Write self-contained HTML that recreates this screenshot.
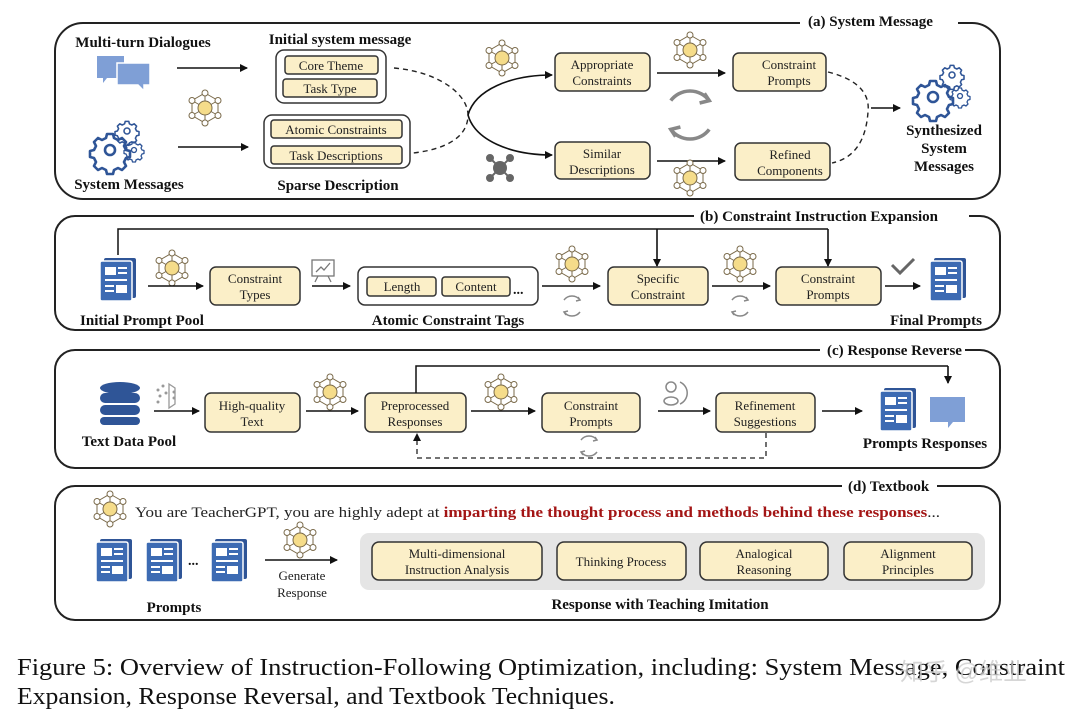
<!DOCTYPE html>
<html><head><meta charset="utf-8"><style>
html,body{margin:0;padding:0;background:#fff;}
svg{display:block;}
text{font-family:"Liberation Serif",serif;}
.b{font-weight:bold;fill:#111;}
.bx{fill:#fbefc8;stroke:#333;stroke-width:1.5;}
.gp{fill:#fff;stroke:#333;stroke-width:1.5;}
.pn{fill:none;stroke:#222;stroke-width:2;}
.ar{stroke:#111;stroke-width:1.6;fill:none;marker-end:url(#ah);}
.t{font-size:13px;fill:#222;}
</style></head><body>
<svg width="1080" height="719" viewBox="0 0 1080 719" xmlns="http://www.w3.org/2000/svg">
<defs>
<marker id="ah" markerWidth="8" markerHeight="8" refX="7" refY="4" orient="auto" markerUnits="userSpaceOnUse"><path d="M0,0 L8,4 L0,8 z" fill="#111"/></marker>
<g id="llm">
<g stroke="#7a6a4a" stroke-width="1" fill="none">
<path d="M0,-15 L13,-7.5 L13,7.5 L0,15 L-13,7.5 L-13,-7.5 Z"/>
<path d="M0,-15 L0,-7 M0,15 L0,7 M13,-7.5 L6,-3.5 M-13,-7.5 L-6,-3.5 M13,7.5 L6,3.5 M-13,7.5 L-6,3.5"/>
</g>
<circle r="7" fill="#f5dc8a" stroke="#7a6a4a" stroke-width="1"/>
<g fill="#fff" stroke="#7a6a4a" stroke-width="1">
<circle cx="0" cy="-15" r="3"/><circle cx="13" cy="-7.5" r="3"/><circle cx="13" cy="7.5" r="3"/>
<circle cx="0" cy="15" r="3"/><circle cx="-13" cy="7.5" r="3"/><circle cx="-13" cy="-7.5" r="3"/>
</g></g>
<g id="doc">
<rect x="4" y="0" width="32" height="40" fill="#2f5597" rx="2"/>
<rect x="0" y="3" width="32" height="40" fill="#3d6bb3" stroke="#fff" stroke-width="1.5" rx="2"/>
<rect x="5" y="9" width="11" height="8" fill="#fff"/>
<rect x="18" y="9" width="9" height="2" fill="#fff"/><rect x="18" y="14" width="9" height="2" fill="#fff"/>
<rect x="5" y="21" width="22" height="2" fill="#fff"/>
<rect x="5" y="27" width="9" height="2" fill="#fff"/><rect x="5" y="32" width="9" height="2" fill="#fff"/>
<rect x="16" y="27" width="11" height="8" fill="#fff"/>
</g>
<g id="cyc" fill="none" stroke="#888" stroke-width="1.5">
<path d="M-8,-6 A10,10 0 0 1 8,-6"/><path d="M8,6 A10,10 0 0 1 -8,6"/>
<path d="M6,-9 L8,-6 L4,-5" /><path d="M-6,9 L-8,6 L-4,5"/>
</g>
<g id="gear" fill="none" stroke="#2f5597" stroke-width="2.6" stroke-linejoin="round">
<path d="M-3,-16 h6 l1,4 l4,2 l4,-2 l4,4 l-2,4 l2,4 l4,1 v6 l-4,1 l-2,4 l2,4 l-4,4 l-4,-2 l-4,2 l-1,4 h-6 l-1,-4 l-4,-2 l-4,2 l-4,-4 l2,-4 l-2,-4 l-4,-1 v-6 l4,-1 l2,-4 l-2,-4 l4,-4 l4,2 l4,-2 z"/>
<circle r="5"/>
</g>
</defs>

<!-- Panel a -->
<rect x="55" y="23" width="945" height="176" rx="28" class="pn"/>
<rect x="800" y="12" width="158" height="20" fill="#fff"/>
<text x="808" y="26" class="b" font-size="15">(a) System Message</text>
<text x="143" y="47" class="b" font-size="15" text-anchor="middle">Multi-turn Dialogues</text>
<path d="M97,56 h27 v22 h-17 l-4,5 v-5 h-6 z" fill="#7f9fd6"/>
<path d="M117,63 h33 v22 h-6 v6 l-6,-6 h-21 z" fill="#7f9fd6" stroke="#fff" stroke-width="1.5"/>
<line x1="177" y1="68" x2="247" y2="68" class="ar"/>
<use href="#llm" x="205" y="108"/>
<use href="#gear" x="110" y="150"/>
<g transform="translate(127,131) scale(0.6)"><use href="#gear"/></g>
<g transform="translate(134,150) scale(0.5)"><use href="#gear"/></g>
<text x="129" y="189" class="b" font-size="15" text-anchor="middle">System Messages</text>
<line x1="178" y1="147" x2="248" y2="147" class="ar"/>
<text x="340" y="44" class="b" font-size="15" text-anchor="middle">Initial system message</text>
<rect x="276" y="50" width="110" height="53" rx="8" class="gp"/>
<rect x="285" y="56" width="93" height="18" rx="3" class="bx"/>
<text x="331" y="70" class="t" text-anchor="middle">Core Theme</text>
<rect x="283" y="79" width="94" height="18" rx="3" class="bx"/>
<text x="330" y="93" class="t" text-anchor="middle">Task Type</text>
<rect x="264" y="115" width="146" height="53" rx="8" class="gp"/>
<rect x="271" y="120" width="131" height="18" rx="3" class="bx"/>
<text x="336" y="134" class="t" text-anchor="middle">Atomic Constraints</text>
<rect x="271" y="146" width="131" height="18" rx="3" class="bx"/>
<text x="336" y="160" class="t" text-anchor="middle">Task Descriptions</text>
<text x="338" y="190" class="b" font-size="15" text-anchor="middle">Sparse Description</text>
<path d="M394,68 C440,72 468,95 468,115 C468,140 440,150 413,153" fill="none" stroke="#222" stroke-width="1.4" stroke-dasharray="5 4"/>
<path d="M468,115 C475,90 510,75 552,75" class="ar"/>
<path d="M468,115 C475,140 510,155 552,155" class="ar"/>
<use href="#llm" x="502" y="58"/>
<g fill="#666" stroke="#666" stroke-width="2"><line x1="490" y1="158" x2="510" y2="178"/><line x1="510" y1="158" x2="490" y2="178"/><circle cx="500" cy="168" r="6"/><circle cx="490" cy="158" r="3"/><circle cx="510" cy="158" r="3"/><circle cx="490" cy="178" r="3"/><circle cx="510" cy="178" r="3"/></g>
<rect x="555" y="53" width="95" height="38" rx="6" class="bx"/>
<text x="602" y="69" class="t" text-anchor="middle">Appropriate</text><text x="602" y="85" class="t" text-anchor="middle">Constraints</text>
<rect x="555" y="142" width="95" height="37" rx="6" class="bx"/>
<text x="602" y="158" class="t" text-anchor="middle">Similar</text><text x="602" y="174" class="t" text-anchor="middle">Descriptions</text>
<line x1="657" y1="73" x2="725" y2="73" class="ar"/>
<line x1="657" y1="161" x2="725" y2="161" class="ar"/>
<use href="#llm" x="690" y="50"/>
<use href="#llm" x="690" y="178"/>
<g transform="translate(690,115) scale(2.4)"><use href="#cyc"/></g>
<rect x="733" y="53" width="93" height="38" rx="6" class="bx"/>
<text x="789" y="69" class="t" text-anchor="middle">Constraint</text><text x="789" y="85" class="t" text-anchor="middle">Prompts</text>
<rect x="735" y="143" width="95" height="37" rx="6" class="bx"/>
<text x="790" y="159" class="t" text-anchor="middle">Refined</text><text x="790" y="175" class="t" text-anchor="middle">Components</text>
<path d="M828,72 C860,80 870,95 868,112 C866,140 855,158 832,163" fill="none" stroke="#222" stroke-width="1.4" stroke-dasharray="5 4"/>
<line x1="871" y1="108" x2="900" y2="108" class="ar"/>
<use href="#gear" x="933" y="97"/>
<g transform="translate(952,75) scale(0.6)"><use href="#gear"/></g>
<g transform="translate(960,96) scale(0.5)"><use href="#gear"/></g>
<text x="944" y="135" class="b" font-size="15" text-anchor="middle">Synthesized</text>
<text x="944" y="153" class="b" font-size="15" text-anchor="middle">System</text>
<text x="944" y="171" class="b" font-size="15" text-anchor="middle">Messages</text>

<!-- Panel b -->
<rect x="55" y="216" width="945" height="114" rx="20" class="pn"/>
<rect x="694" y="206" width="275" height="20" fill="#fff"/>
<text x="700" y="221" class="b" font-size="15">(b) Constraint Instruction Expansion</text>
<path d="M118,255 V229 H828" fill="none" stroke="#111" stroke-width="1.5"/>
<line x1="657" y1="229" x2="657" y2="266" class="ar"/>
<line x1="828" y1="229" x2="828" y2="266" class="ar"/>
<use href="#doc" x="100" y="258"/>
<text x="142" y="325" class="b" font-size="15" text-anchor="middle">Initial Prompt Pool</text>
<use href="#llm" x="172" y="268"/>
<line x1="148" y1="286" x2="203" y2="286" class="ar"/>
<rect x="210" y="267" width="90" height="38" rx="6" class="bx"/>
<text x="255" y="283" class="t" text-anchor="middle">Constraint</text><text x="255" y="299" class="t" text-anchor="middle">Types</text>
<g stroke="#777" fill="none" stroke-width="1.3"><rect x="312" y="260" width="22" height="16"/><path d="M316,272 l5,-5 3,3 6,-7 M318,276 l-3,6 M328,276 l3,6"/></g>
<line x1="312" y1="286" x2="350" y2="286" class="ar"/>
<rect x="358" y="267" width="180" height="38" rx="7" class="gp"/>
<rect x="367" y="277" width="69" height="19" rx="3" class="bx"/>
<text x="402" y="291" class="t" text-anchor="middle">Length</text>
<rect x="442" y="277" width="68" height="19" rx="3" class="bx"/>
<text x="476" y="291" class="t" text-anchor="middle">Content</text>
<text x="513" y="294" class="b" font-size="14">...</text>
<text x="448" y="325" class="b" font-size="15" text-anchor="middle">Atomic Constraint Tags</text>
<use href="#llm" x="572" y="264"/>
<line x1="542" y1="286" x2="600" y2="286" class="ar"/>
<use href="#cyc" x="572" y="306"/>
<rect x="608" y="267" width="100" height="38" rx="6" class="bx"/>
<text x="658" y="283" class="t" text-anchor="middle">Specific</text><text x="658" y="299" class="t" text-anchor="middle">Constraint</text>
<use href="#llm" x="740" y="264"/>
<line x1="712" y1="286" x2="770" y2="286" class="ar"/>
<use href="#cyc" x="740" y="306"/>
<rect x="776" y="267" width="105" height="38" rx="6" class="bx"/>
<text x="828" y="283" class="t" text-anchor="middle">Constraint</text><text x="828" y="299" class="t" text-anchor="middle">Prompts</text>
<path d="M892,265 l8,8 l14,-14" fill="none" stroke="#666" stroke-width="3"/>
<line x1="885" y1="286" x2="920" y2="286" class="ar"/>
<use href="#doc" x="930" y="258"/>
<text x="936" y="325" class="b" font-size="15" text-anchor="middle">Final Prompts</text>

<!-- Panel c -->
<rect x="55" y="350" width="945" height="118" rx="20" class="pn"/>
<rect x="820" y="340" width="145" height="20" fill="#fff"/>
<text x="827" y="355" class="b" font-size="15">(c) Response Reverse</text>
<g fill="#2f5597"><ellipse cx="120" cy="388" rx="20" ry="6"/><rect x="100" y="393" width="40" height="10" rx="5"/><rect x="100" y="405" width="40" height="10" rx="5"/><rect x="100" y="417" width="40" height="8" rx="4"/></g>
<text x="129" y="446" class="b" font-size="15" text-anchor="middle">Text Data Pool</text>
<g fill="#999"><circle cx="158" cy="390" r="1.5"/><circle cx="163" cy="386" r="1.5"/><circle cx="160" cy="396" r="1.5"/><circle cx="166" cy="393" r="1.5"/><circle cx="158" cy="402" r="1.5"/><circle cx="174" cy="392" r="1.5"/><circle cx="174" cy="398" r="1.5"/></g>
<path d="M169,384 l6,4 v16 l-6,4 z" fill="none" stroke="#999" stroke-width="1.3"/>
<line x1="154" y1="411" x2="199" y2="411" class="ar"/>
<rect x="205" y="393" width="95" height="39" rx="6" class="bx"/>
<text x="252" y="410" class="t" text-anchor="middle">High-quality</text><text x="252" y="426" class="t" text-anchor="middle">Text</text>
<use href="#llm" x="330" y="392"/>
<line x1="306" y1="411" x2="358" y2="411" class="ar"/>
<rect x="365" y="393" width="101" height="39" rx="6" class="bx"/>
<text x="415" y="410" class="t" text-anchor="middle">Preprocessed</text><text x="415" y="426" class="t" text-anchor="middle">Responses</text>
<path d="M416,393 V366 H948" fill="none" stroke="#111" stroke-width="1.5"/>
<line x1="948" y1="366" x2="948" y2="383" class="ar"/>
<use href="#llm" x="501" y="392"/>
<line x1="471" y1="411" x2="535" y2="411" class="ar"/>
<rect x="542" y="393" width="98" height="39" rx="6" class="bx"/>
<text x="591" y="410" class="t" text-anchor="middle">Constraint</text><text x="591" y="426" class="t" text-anchor="middle">Prompts</text>
<g fill="none" stroke="#888" stroke-width="1.5"><circle cx="671" cy="387" r="5"/><ellipse cx="671" cy="401" rx="7" ry="4"/><path d="M680,382 a12,12 0 0 1 0,22"/></g>
<line x1="658" y1="411" x2="710" y2="411" class="ar"/>
<rect x="716" y="393" width="99" height="39" rx="6" class="bx"/>
<text x="765" y="410" class="t" text-anchor="middle">Refinement</text><text x="765" y="426" class="t" text-anchor="middle">Suggestions</text>
<path d="M766,433 V458 H417 V438" fill="none" stroke="#222" stroke-width="1.3" stroke-dasharray="5 4"/>
<path d="M413,441 l4,-8 l4,8 z" fill="#111"/>
<use href="#cyc" x="589" y="446"/>
<line x1="822" y1="411" x2="862" y2="411" class="ar"/>
<use href="#doc" x="880" y="388"/>
<path d="M930,397 h35 v25 h-12 l-5,6 v-6 h-18 z" fill="#7f9fd6"/>
<text x="925" y="448" class="b" font-size="15" text-anchor="middle">Prompts Responses</text>

<!-- Panel d -->
<rect x="55" y="486" width="945" height="134" rx="20" class="pn"/>
<rect x="842" y="476" width="95" height="20" fill="#fff"/>
<text x="848" y="491" class="b" font-size="15">(d) Textbook</text>
<use href="#llm" x="110" y="509"/>
<text x="135" y="517" font-size="15" fill="#222" textLength="805" lengthAdjust="spacingAndGlyphs">You are TeacherGPT, you are highly adept at <tspan font-weight="bold" fill="#a31515">imparting the thought process and methods behind these responses</tspan>...</text>
<use href="#doc" x="96" y="539"/>
<use href="#doc" x="146" y="539"/>
<text x="188" y="565" class="b" font-size="14">...</text>
<use href="#doc" x="211" y="539"/>
<text x="174" y="612" class="b" font-size="15" text-anchor="middle">Prompts</text>
<use href="#llm" x="300" y="540"/>
<line x1="265" y1="560" x2="337" y2="560" class="ar"/>
<text x="302" y="580" class="t" text-anchor="middle">Generate</text>
<text x="302" y="597" class="t" text-anchor="middle">Response</text>
<rect x="360" y="533" width="625" height="57" rx="9" fill="#e5e5e5"/>
<rect x="372" y="542" width="170" height="38" rx="7" class="bx"/>
<text x="457" y="558" class="t" text-anchor="middle">Multi-dimensional</text><text x="457" y="574" class="t" text-anchor="middle">Instruction Analysis</text>
<rect x="557" y="542" width="129" height="38" rx="7" class="bx"/>
<text x="621" y="566" class="t" text-anchor="middle">Thinking Process</text>
<rect x="700" y="542" width="128" height="38" rx="7" class="bx"/>
<text x="764" y="558" class="t" text-anchor="middle">Analogical</text><text x="764" y="574" class="t" text-anchor="middle">Reasoning</text>
<rect x="844" y="542" width="128" height="38" rx="7" class="bx"/>
<text x="908" y="558" class="t" text-anchor="middle">Alignment</text><text x="908" y="574" class="t" text-anchor="middle">Principles</text>
<text x="660" y="609" class="b" font-size="15" text-anchor="middle">Response with Teaching Imitation</text>

<!-- Caption -->
<text x="17" y="675" font-size="24" fill="#111" textLength="1048" lengthAdjust="spacingAndGlyphs">Figure 5: Overview of Instruction-Following Optimization, including: System Message, Constraint</text>
<text x="17" y="704" font-size="24" fill="#111" textLength="598" lengthAdjust="spacingAndGlyphs">Expansion, Response Reversal, and Textbook Techniques.</text>
<text x="900" y="680" font-size="24" fill="#ccc" fill-opacity="0.8" style='font-family:"Liberation Sans","Noto Sans CJK SC",sans-serif'>知乎 @维业</text>
</svg>
</body></html>
